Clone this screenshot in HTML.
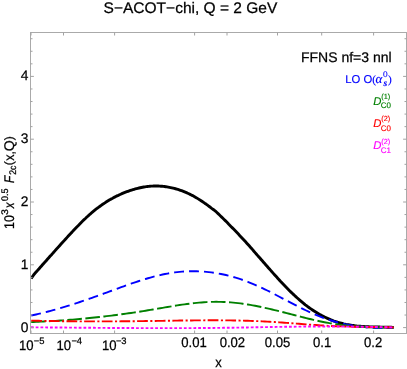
<!DOCTYPE html>
<html><head><meta charset="utf-8"><style>
html,body{margin:0;padding:0;background:#fff;}
body{width:407px;height:369px;overflow:hidden;}
svg{display:block;will-change:transform;transform:translateZ(0);}
</style></head><body>
<svg width="407" height="369" viewBox="0 0 407 369">
<path d="M31.2,278.5 L34.2,274.20 L35.4,272.82 L36.6,271.45 L37.9,270.07 L39.1,268.70 L40.3,267.32 L41.5,265.95 L42.7,264.57 L43.9,263.19 L45.2,261.82 L46.4,260.45 L47.6,259.07 L48.8,257.70 L50.0,256.33 L51.3,254.96 L52.5,253.59 L53.7,252.23 L54.9,250.86 L56.1,249.50 L57.3,248.14 L58.6,246.79 L59.8,245.43 L61.0,244.09 L62.2,242.74 L63.4,241.40 L64.7,240.06 L65.9,238.73 L67.1,237.40 L68.3,236.07 L69.5,234.75 L70.7,233.43 L72.0,232.13 L73.2,230.82 L74.4,229.53 L75.6,228.24 L76.8,226.97 L78.1,225.71 L79.3,224.46 L80.5,223.22 L81.7,222.01 L82.9,220.80 L84.1,219.62 L85.4,218.46 L86.6,217.31 L87.8,216.19 L89.0,215.09 L90.2,214.02 L91.5,212.96 L92.7,211.94 L93.9,210.93 L95.1,209.94 L96.3,208.98 L97.5,208.04 L98.8,207.13 L100.0,206.23 L101.2,205.36 L102.4,204.50 L103.6,203.67 L104.9,202.86 L106.1,202.08 L107.3,201.31 L108.5,200.56 L109.7,199.84 L110.9,199.13 L112.2,198.45 L113.4,197.78 L114.6,197.14 L115.8,196.51 L117.0,195.90 L118.3,195.32 L119.5,194.75 L120.7,194.20 L121.9,193.67 L123.1,193.15 L124.3,192.66 L125.6,192.18 L126.8,191.72 L128.0,191.27 L129.2,190.85 L130.4,190.44 L131.6,190.04 L132.9,189.66 L134.1,189.30 L135.3,188.96 L136.5,188.63 L137.7,188.31 L139.0,188.02 L140.2,187.74 L141.4,187.48 L142.6,187.24 L143.8,187.02 L145.0,186.82 L146.3,186.64 L147.5,186.49 L148.7,186.35 L149.9,186.24 L151.1,186.15 L152.4,186.08 L153.6,186.03 L154.8,186.00 L156.0,186.00 L157.2,186.01 L158.4,186.05 L159.7,186.10 L160.9,186.18 L162.1,186.28 L163.3,186.40 L164.5,186.54 L165.8,186.70 L167.0,186.89 L168.2,187.09 L169.4,187.32 L170.6,187.56 L171.8,187.83 L173.1,188.12 L174.3,188.42 L175.5,188.75 L176.7,189.10 L177.9,189.47 L179.2,189.86 L180.4,190.28 L181.6,190.71 L182.8,191.17 L184.0,191.64 L185.2,192.14 L186.5,192.66 L187.7,193.21 L188.9,193.77 L190.1,194.36 L191.3,194.97 L192.6,195.60 L193.8,196.26 L195.0,196.94 L196.2,197.64 L197.4,198.37 L198.6,199.11 L199.9,199.89 L201.1,200.68 L202.3,201.50 L203.5,202.33 L204.7,203.19 L206.0,204.06 L207.2,204.94 L208.4,205.84 L209.6,206.74 L210.8,207.65 L212.0,208.56 L213.3,209.48 L214.5,210.40 L215.7,211.32 L215.7,211.32 L216.9,212.47 L218.1,213.62 L219.3,214.78 L220.5,215.94 L221.7,217.11 L222.9,218.29 L224.1,219.47 L225.3,220.65 L226.5,221.84 L227.7,223.04 L228.8,224.24 L230.0,225.45 L231.2,226.66 L232.4,227.88 L233.6,229.11 L234.8,230.35 L236.0,231.60 L237.2,232.85 L238.4,234.11 L239.6,235.38 L240.8,236.65 L242.0,237.94 L243.2,239.23 L244.4,240.54 L245.6,241.85 L246.8,243.17 L248.0,244.50 L249.2,245.84 L250.4,247.18 L251.6,248.53 L252.8,249.88 L253.9,251.24 L255.1,252.60 L256.3,253.97 L257.5,255.34 L258.7,256.71 L259.9,258.08 L261.1,259.46 L262.3,260.83 L263.5,262.20 L264.7,263.57 L265.9,264.94 L267.1,266.31 L268.3,267.68 L269.5,269.04 L270.7,270.39 L271.9,271.74 L273.1,273.09 L274.3,274.43 L275.5,275.76 L276.7,277.08 L277.9,278.40 L279.1,279.70 L280.2,281.00 L281.4,282.28 L282.6,283.56 L283.8,284.82 L285.0,286.07 L286.2,287.30 L287.4,288.53 L288.6,289.73 L289.8,290.92 L291.0,292.10 L292.2,293.26 L293.4,294.40 L294.6,295.52 L295.8,296.63 L297.0,297.72 L298.2,298.79 L299.4,299.84 L300.6,300.87 L301.8,301.88 L303.0,302.87 L304.2,303.83 L305.3,304.78 L306.5,305.70 L307.7,306.60 L308.9,307.49 L310.1,308.34 L311.3,309.18 L312.5,310.00 L313.7,310.79 L314.9,311.56 L316.1,312.31 L317.3,313.04 L318.5,313.75 L319.7,314.43 L320.9,315.10 L322.1,315.74 L323.3,316.36 L324.5,316.97 L325.7,317.55 L326.9,318.11 L328.1,318.64 L329.3,319.16 L330.4,319.66 L331.6,320.14 L332.8,320.59 L334.0,321.03 L335.2,321.44 L336.4,321.83 L337.6,322.21 L338.8,322.56 L340.0,322.90 L341.2,323.22 L342.4,323.52 L343.6,323.81 L344.8,324.07 L346.0,324.33 L347.2,324.56 L348.4,324.78 L349.6,324.99 L350.8,325.19 L352.0,325.37 L353.2,325.53 L354.4,325.69 L355.6,325.83 L356.7,325.97 L357.9,326.09 L359.1,326.20 L360.3,326.30 L361.5,326.40 L362.7,326.48 L363.9,326.56 L365.1,326.63 L366.3,326.69 L367.5,326.74 L368.7,326.79 L369.9,326.84 L371.1,326.88 L372.3,326.91 L373.5,326.94 L374.7,326.97 L375.9,327.00 L377.1,327.02 L378.3,327.04 L379.5,327.06 L380.7,327.08 L381.8,327.10 L383.0,327.12 L384.2,327.14 L385.4,327.16 L386.6,327.19 L387.8,327.21 L389.0,327.24 L390.2,327.28 L391.4,327.31 L392.6,327.35 L393.8,327.40" fill="none" stroke="#000" stroke-width="2.9" stroke-linejoin="round"/>
<path d="M31.2,315.49 L33.6,314.98 L36.1,314.45 L38.5,313.90 L40.9,313.33 L43.4,312.74 L45.8,312.13 L48.2,311.50 L50.7,310.86 L53.1,310.20 L55.5,309.53 L58.0,308.84 L60.4,308.13 L62.8,307.41 L65.3,306.68 L67.7,305.93 L70.1,305.17 L72.6,304.40 L75.0,303.62 L77.4,302.82 L79.9,302.01 L82.3,301.20 L84.7,300.37 L87.2,299.53 L89.6,298.68 L92.0,297.83 L94.5,296.97 L96.9,296.10 L99.3,295.22 L101.8,294.34 L104.2,293.45 L106.6,292.55 L109.1,291.65 L111.5,290.75 L113.9,289.86 L116.4,288.96 L118.8,288.07 L121.2,287.18 L123.7,286.30 L126.1,285.43 L128.5,284.56 L131.0,283.72 L133.4,282.88 L135.8,282.06 L138.3,281.26 L140.7,280.47 L143.1,279.71 L145.6,278.97 L148.0,278.25 L150.4,277.56 L152.9,276.89 L155.3,276.26 L157.7,275.65 L160.2,275.08 L162.6,274.54 L165.0,274.04 L167.5,273.57 L169.9,273.14 L172.3,272.76 L174.8,272.41 L177.2,272.11 L179.6,271.86 L182.1,271.64 L184.5,271.47 L186.9,271.34 L189.4,271.26 L191.8,271.21 L194.2,271.21 L196.7,271.25 L199.1,271.34 L201.5,271.47 L204.0,271.64 L206.4,271.85 L208.8,272.10 L211.3,272.40 L213.7,272.74 L216.2,273.11 L218.6,273.54 L221.0,274.00 L223.5,274.50 L225.9,275.05 L228.3,275.64 L230.8,276.27 L233.2,276.94 L235.6,277.65 L238.1,278.40 L240.5,279.19 L242.9,280.03 L245.4,280.90 L247.8,281.82 L250.2,282.78 L252.7,283.77 L255.1,284.81 L257.5,285.89 L260.0,287.00 L262.4,288.14 L264.8,289.31 L267.3,290.50 L269.7,291.72 L272.1,292.96 L274.6,294.21 L277.0,295.48 L279.4,296.75 L281.9,298.03 L284.3,299.32 L286.7,300.60 L289.2,301.89 L291.6,303.16 L294.0,304.43 L296.5,305.69 L298.9,306.93 L301.3,308.15 L303.8,309.35 L306.2,310.52 L308.6,311.67 L311.1,312.79 L313.5,313.87 L315.9,314.91 L318.4,315.92 L320.8,316.88 L323.2,317.80 L325.7,318.67 L328.1,319.50 L330.5,320.28 L333.0,321.02 L335.4,321.73 L337.8,322.39 L340.3,323.00 L342.7,323.58 L345.1,324.12 L347.6,324.62 L350.0,325.08 L352.4,325.50 L354.9,325.89 L357.3,326.24 L359.7,326.55 L362.2,326.82 L364.6,327.06 L367.0,327.27 L369.5,327.44 L371.9,327.57 L374.3,327.68 L376.8,327.75 L379.2,327.79 L381.6,327.80 L384.1,327.77 L386.5,327.72 L388.9,327.63 L391.4,327.52 L393.8,327.38" fill="none" stroke="#0000ff" stroke-width="1.9" stroke-dasharray="9.9 5.05"/>
<path d="M31.2,322.09 L33.6,322.00 L36.1,321.89 L38.5,321.78 L40.9,321.67 L43.4,321.54 L45.8,321.42 L48.2,321.28 L50.7,321.14 L53.1,320.99 L55.5,320.84 L58.0,320.68 L60.4,320.52 L62.8,320.34 L65.3,320.16 L67.7,319.98 L70.1,319.79 L72.6,319.59 L75.0,319.39 L77.4,319.18 L79.9,318.96 L82.3,318.74 L84.7,318.51 L87.2,318.27 L89.6,318.03 L92.0,317.78 L94.5,317.53 L96.9,317.27 L99.3,317.00 L101.8,316.73 L104.2,316.45 L106.6,316.16 L109.1,315.87 L111.5,315.57 L113.9,315.26 L116.4,314.95 L118.8,314.63 L121.2,314.31 L123.7,313.97 L126.1,313.63 L128.5,313.29 L131.0,312.94 L133.4,312.58 L135.8,312.22 L138.3,311.84 L140.7,311.47 L143.1,311.08 L145.6,310.69 L148.0,310.29 L150.4,309.89 L152.9,309.48 L155.3,309.07 L157.7,308.65 L160.2,308.23 L162.6,307.82 L165.0,307.40 L167.5,306.99 L169.9,306.58 L172.3,306.18 L174.8,305.79 L177.2,305.41 L179.6,305.03 L182.1,304.67 L184.5,304.33 L186.9,304.00 L189.4,303.69 L191.8,303.39 L194.2,303.12 L196.7,302.87 L199.1,302.64 L201.5,302.44 L204.0,302.26 L206.4,302.11 L208.8,301.99 L211.3,301.90 L213.7,301.84 L216.2,301.82 L218.6,301.83 L221.0,301.88 L223.5,301.96 L225.9,302.08 L228.3,302.22 L230.8,302.40 L233.2,302.62 L235.6,302.86 L238.1,303.13 L240.5,303.43 L242.9,303.76 L245.4,304.11 L247.8,304.49 L250.2,304.90 L252.7,305.33 L255.1,305.78 L257.5,306.26 L260.0,306.76 L262.4,307.28 L264.8,307.81 L267.3,308.36 L269.7,308.92 L272.1,309.50 L274.6,310.09 L277.0,310.69 L279.4,311.30 L281.9,311.92 L284.3,312.54 L286.7,313.16 L289.2,313.79 L291.6,314.42 L294.0,315.04 L296.5,315.67 L298.9,316.29 L301.3,316.91 L303.8,317.52 L306.2,318.12 L308.6,318.71 L311.1,319.29 L313.5,319.86 L315.9,320.41 L318.4,320.95 L320.8,321.47 L323.2,321.97 L325.7,322.45 L328.1,322.90 L330.5,323.34 L333.0,323.75 L335.4,324.13 L337.8,324.48 L340.3,324.81 L342.7,325.12 L345.1,325.40 L347.6,325.65 L350.0,325.89 L352.4,326.10 L354.9,326.29 L357.3,326.47 L359.7,326.62 L362.2,326.76 L364.6,326.88 L367.0,326.99 L369.5,327.08 L371.9,327.15 L374.3,327.22 L376.8,327.27 L379.2,327.31 L381.6,327.35 L384.1,327.37 L386.5,327.38 L388.9,327.39 L391.4,327.39 L393.8,327.39" fill="none" stroke="#008000" stroke-width="1.9" stroke-dasharray="14.6 3.5"/>
<path d="M31.2,320.60 L33.6,320.66 L36.1,320.72 L38.5,320.77 L40.9,320.83 L43.4,320.88 L45.8,320.93 L48.2,320.97 L50.7,321.02 L53.1,321.06 L55.5,321.09 L58.0,321.13 L60.4,321.16 L62.8,321.20 L65.3,321.22 L67.7,321.25 L70.1,321.28 L72.6,321.30 L75.0,321.32 L77.4,321.33 L79.9,321.35 L82.3,321.36 L84.7,321.37 L87.2,321.38 L89.6,321.39 L92.0,321.40 L94.5,321.40 L96.9,321.40 L99.3,321.40 L101.8,321.40 L104.2,321.39 L106.6,321.39 L109.1,321.38 L111.5,321.37 L113.9,321.36 L116.4,321.35 L118.8,321.33 L121.2,321.32 L123.7,321.30 L126.1,321.28 L128.5,321.26 L131.0,321.24 L133.4,321.21 L135.8,321.19 L138.3,321.16 L140.7,321.13 L143.1,321.10 L145.6,321.07 L148.0,321.04 L150.4,321.01 L152.9,320.97 L155.3,320.94 L157.7,320.90 L160.2,320.86 L162.6,320.83 L165.0,320.79 L167.5,320.75 L169.9,320.72 L172.3,320.68 L174.8,320.64 L177.2,320.61 L179.6,320.57 L182.1,320.54 L184.5,320.51 L186.9,320.48 L189.4,320.45 L191.8,320.43 L194.2,320.40 L196.7,320.38 L199.1,320.36 L201.5,320.34 L204.0,320.33 L206.4,320.32 L208.8,320.31 L211.3,320.31 L213.7,320.31 L216.2,320.31 L218.6,320.32 L221.0,320.33 L223.5,320.34 L225.9,320.37 L228.3,320.39 L230.8,320.42 L233.2,320.46 L235.6,320.50 L238.1,320.54 L240.5,320.60 L242.9,320.65 L245.4,320.72 L247.8,320.79 L250.2,320.87 L252.7,320.95 L255.1,321.04 L257.5,321.14 L260.0,321.24 L262.4,321.35 L264.8,321.47 L267.3,321.60 L269.7,321.74 L272.1,321.88 L274.6,322.03 L277.0,322.19 L279.4,322.35 L281.9,322.52 L284.3,322.70 L286.7,322.88 L289.2,323.06 L291.6,323.24 L294.0,323.43 L296.5,323.62 L298.9,323.81 L301.3,323.99 L303.8,324.18 L306.2,324.36 L308.6,324.55 L311.1,324.72 L313.5,324.90 L315.9,325.07 L318.4,325.23 L320.8,325.39 L323.2,325.54 L325.7,325.69 L328.1,325.83 L330.5,325.95 L333.0,326.07 L335.4,326.18 L337.8,326.27 L340.3,326.36 L342.7,326.44 L345.1,326.51 L347.6,326.57 L350.0,326.63 L352.4,326.68 L354.9,326.72 L357.3,326.76 L359.7,326.80 L362.2,326.84 L364.6,326.87 L367.0,326.90 L369.5,326.93 L371.9,326.96 L374.3,327.00 L376.8,327.03 L379.2,327.07 L381.6,327.11 L384.1,327.16 L386.5,327.21 L388.9,327.27 L391.4,327.33 L393.8,327.40" fill="none" stroke="#ff0000" stroke-width="1.9" stroke-dasharray="10.75 2.45 2.1 2.35"/>
<path d="M30.9,327.30 L33.3,327.32 L35.8,327.34 L38.2,327.35 L40.6,327.37 L43.1,327.39 L45.5,327.41 L47.9,327.43 L50.4,327.45 L52.8,327.47 L55.3,327.49 L57.7,327.51 L60.1,327.53 L62.6,327.55 L65.0,327.57 L67.4,327.59 L69.9,327.61 L72.3,327.64 L74.7,327.66 L77.2,327.68 L79.6,327.70 L82.0,327.72 L84.5,327.74 L86.9,327.76 L89.4,327.78 L91.8,327.80 L94.2,327.82 L96.7,327.84 L99.1,327.85 L101.5,327.87 L104.0,327.89 L106.4,327.91 L108.8,327.93 L111.3,327.94 L113.7,327.96 L116.1,327.97 L118.6,327.99 L121.0,328.01 L123.5,328.02 L125.9,328.03 L128.3,328.05 L130.8,328.06 L133.2,328.07 L135.6,328.08 L138.1,328.09 L140.5,328.10 L142.9,328.11 L145.4,328.12 L147.8,328.13 L150.2,328.13 L152.7,328.14 L155.1,328.14 L157.5,328.15 L160.0,328.15 L162.4,328.15 L164.9,328.15 L167.3,328.15 L169.7,328.15 L172.2,328.15 L174.6,328.15 L177.0,328.14 L179.5,328.14 L181.9,328.13 L184.3,328.12 L186.8,328.11 L189.2,328.10 L191.6,328.09 L194.1,328.08 L196.5,328.07 L199.0,328.05 L201.4,328.03 L203.8,328.02 L206.3,328.00 L208.7,327.97 L211.1,327.95 L213.6,327.93 L216.0,327.90 L218.4,327.88 L220.9,327.85 L223.3,327.82 L225.7,327.78 L228.2,327.75 L230.6,327.72 L233.1,327.68 L235.5,327.64 L237.9,327.60 L240.4,327.56 L242.8,327.52 L245.2,327.48 L247.7,327.43 L250.1,327.39 L252.5,327.34 L255.0,327.30 L257.4,327.26 L259.8,327.21 L262.3,327.17 L264.7,327.12 L267.2,327.08 L269.6,327.04 L272.0,326.99 L274.5,326.95 L276.9,326.91 L279.3,326.87 L281.8,326.84 L284.2,326.80 L286.6,326.77 L289.1,326.74 L291.5,326.71 L293.9,326.68 L296.4,326.65 L298.8,326.63 L301.2,326.61 L303.7,326.59 L306.1,326.57 L308.6,326.55 L311.0,326.54 L313.4,326.53 L315.9,326.52 L318.3,326.51 L320.7,326.51 L323.2,326.50 L325.6,326.50 L328.0,326.51 L330.5,326.51 L332.9,326.52 L335.3,326.52 L337.8,326.53 L340.2,326.55 L342.7,326.56 L345.1,326.58 L347.5,326.60 L350.0,326.62 L352.4,326.64 L354.8,326.67 L357.3,326.70 L359.7,326.73 L362.1,326.76 L364.6,326.80 L367.0,326.84 L369.4,326.88 L371.9,326.92 L374.3,326.96 L376.8,327.01 L379.2,327.06 L381.6,327.11 L384.1,327.17 L386.5,327.22 L388.9,327.28 L391.4,327.34 L393.8,327.41" fill="none" stroke="#ff00ff" stroke-width="1.9" stroke-dasharray="2.78 2.0"/>
<g stroke="#aaaaaa" stroke-width="1" fill="none">
<rect x="30.5" y="32.5" width="376.0" height="301.0"/>
<path d="M30.5,327.60h3.4M406.5,327.60h-3.4M30.5,315.04h2.0M406.5,315.04h-2.0M30.5,302.48h2.0M406.5,302.48h-2.0M30.5,289.92h2.0M406.5,289.92h-2.0M30.5,277.36h2.0M406.5,277.36h-2.0M30.5,264.80h3.4M406.5,264.80h-3.4M30.5,252.24h2.0M406.5,252.24h-2.0M30.5,239.68h2.0M406.5,239.68h-2.0M30.5,227.12h2.0M406.5,227.12h-2.0M30.5,214.56h2.0M406.5,214.56h-2.0M30.5,202.00h3.4M406.5,202.00h-3.4M30.5,189.44h2.0M406.5,189.44h-2.0M30.5,176.88h2.0M406.5,176.88h-2.0M30.5,164.32h2.0M406.5,164.32h-2.0M30.5,151.76h2.0M406.5,151.76h-2.0M30.5,139.20h3.4M406.5,139.20h-3.4M30.5,126.64h2.0M406.5,126.64h-2.0M30.5,114.08h2.0M406.5,114.08h-2.0M30.5,101.52h2.0M406.5,101.52h-2.0M30.5,88.96h2.0M406.5,88.96h-2.0M30.5,76.40h3.4M406.5,76.40h-3.4M30.5,63.84h2.0M406.5,63.84h-2.0M30.5,51.28h2.0M406.5,51.28h-2.0M30.5,38.72h2.0M406.5,38.72h-2.0M31.0,333.5v-3.0M31.0,32.5v3.0M63.5,333.5v-3.0M63.5,32.5v3.0M114.6,333.5v-3.0M114.6,32.5v3.0M194.6,333.5v-3.0M194.6,32.5v3.0M227,333.5v-3.0M227,32.5v3.0M277.5,333.5v-3.0M277.5,32.5v3.0M321.7,333.5v-3.0M321.7,32.5v3.0M373.6,333.5v-3.0M373.6,32.5v3.0" stroke="#a2a2a2" stroke-width="1.0"/>
</g>
<g font-family="'Liberation Sans', sans-serif" style="text-rendering:geometricPrecision" stroke="#000" stroke-width="0.25">
<text x="103.60" y="12.9" font-size="15.3" textLength="173.77" lengthAdjust="spacingAndGlyphs">S&#8722;ACOT&#8722;chi, Q = 2 GeV</text>
<text x="20.73" y="331.55" font-size="13.8" textLength="7.67" lengthAdjust="spacingAndGlyphs">0</text>
<text x="20.73" y="268.75" font-size="13.8" textLength="7.67" lengthAdjust="spacingAndGlyphs">1</text>
<text x="20.73" y="205.95" font-size="13.8" textLength="7.67" lengthAdjust="spacingAndGlyphs">2</text>
<text x="20.73" y="143.15" font-size="13.8" textLength="7.67" lengthAdjust="spacingAndGlyphs">3</text>
<text x="20.73" y="80.35" font-size="13.8" textLength="7.67" lengthAdjust="spacingAndGlyphs">4</text>
<text x="18.90" y="349.95" font-size="13.8" textLength="14.58" lengthAdjust="spacingAndGlyphs">10</text><text x="33.80" y="343.8" font-size="9.4" textLength="10.72" lengthAdjust="spacingAndGlyphs">&#8722;5</text>
<text x="56.40" y="349.95" font-size="13.8" textLength="14.58" lengthAdjust="spacingAndGlyphs">10</text><text x="71.40" y="343.8" font-size="9.4" textLength="10.72" lengthAdjust="spacingAndGlyphs">&#8722;4</text>
<text x="101.90" y="349.95" font-size="13.8" textLength="14.58" lengthAdjust="spacingAndGlyphs">10</text><text x="115.90" y="343.8" font-size="9.4" textLength="10.72" lengthAdjust="spacingAndGlyphs">&#8722;3</text>
<text x="181.34" y="346.95" font-size="13.8" textLength="25.52" lengthAdjust="spacingAndGlyphs">0.01</text>
<text x="219.64" y="346.95" font-size="13.8" textLength="25.52" lengthAdjust="spacingAndGlyphs">0.02</text>
<text x="264.84" y="346.95" font-size="13.8" textLength="25.52" lengthAdjust="spacingAndGlyphs">0.05</text>
<text x="313.09" y="346.95" font-size="13.8" textLength="18.22" lengthAdjust="spacingAndGlyphs">0.1</text>
<text x="364.09" y="346.95" font-size="13.8" textLength="18.22" lengthAdjust="spacingAndGlyphs">0.2</text>
<text x="215.32" y="366.6" font-size="13.8" textLength="6.55" lengthAdjust="spacingAndGlyphs">x</text>
<text x="391.6" y="61.6" font-size="14" text-anchor="end" >FFNS nf=3 nnl</text>
<text stroke="#0000ff" stroke-width="0.15" x="345.2" y="82.6" font-size="11.3" fill="#0000ff" >LO O</text>
<text stroke="#0000ff" stroke-width="0.15" font-family="Liberation Serif, serif" font-size="11.2" x="372.3" y="82.7" fill="#0000ff">(</text>
<text stroke="#0000ff" stroke-width="0.15" font-family="Liberation Serif, serif" font-style="italic" font-size="13" x="375.6" y="82.7" fill="#0000ff">&#945;</text>
<text stroke="#0000ff" stroke-width="0.15" font-size="8.3" x="383.1" y="77.3" fill="#0000ff">0</text>
<text stroke="#0000ff" stroke-width="0.15" font-family="Liberation Serif, serif" font-style="italic" font-weight="bold" font-size="9.5" x="383.4" y="86.2" fill="#0000ff">s</text>
<text stroke="#0000ff" stroke-width="0.15" font-family="Liberation Serif, serif" font-size="11.2" x="387.9" y="82.7" fill="#0000ff">)</text>
<text stroke="#008000" stroke-width="0.15" font-style="italic" font-size="11.3" x="373.3" y="104.6" fill="#008000">D</text><text stroke="#008000" stroke-width="0.15" font-size="7.4" x="381.3" y="99.1" fill="#008000">(1)</text><text stroke="#008000" stroke-width="0.15" font-size="8" x="380.7" y="108.4" fill="#008000">C0</text>
<text stroke="#ff0000" stroke-width="0.15" font-style="italic" font-size="11.3" x="373.3" y="126.8" fill="#ff0000">D</text><text stroke="#ff0000" stroke-width="0.15" font-size="7.4" x="381.3" y="121.3" fill="#ff0000">(2)</text><text stroke="#ff0000" stroke-width="0.15" font-size="8" x="380.7" y="130.6" fill="#ff0000">C0</text>
<text stroke="#ff00ff" stroke-width="0.15" font-style="italic" font-size="11.3" x="373.3" y="149.0" fill="#ff00ff">D</text><text stroke="#ff00ff" stroke-width="0.15" font-size="7.4" x="381.3" y="143.5" fill="#ff00ff">(2)</text><text stroke="#ff00ff" stroke-width="0.15" font-size="8" x="380.7" y="152.8" fill="#ff00ff">C1</text>
<g transform="rotate(-90)">
<text x="-228.95" y="14.1" font-size="14" textLength="13.83" lengthAdjust="spacingAndGlyphs">10</text>
<text x="-215.00" y="8.3" font-size="9.6" textLength="5.87" lengthAdjust="spacingAndGlyphs">3</text>
<text x="-208.34" y="14.1" font-size="14" textLength="5.71" lengthAdjust="spacingAndGlyphs" font-family="'Liberation Sans', sans-serif" font-style="italic">x</text>
<text x="-201.05" y="8.3" font-size="9.6" textLength="12.53" lengthAdjust="spacingAndGlyphs">0.5</text>
<text x="-182.97" y="14.1" font-size="14" textLength="7.31" lengthAdjust="spacingAndGlyphs" font-family="'Liberation Sans', sans-serif" font-style="italic">F</text>
<text x="-174.84" y="16.1" font-size="9.6" textLength="9.17" lengthAdjust="spacingAndGlyphs">2c</text>
<text x="-165.25" y="13.4" font-size="12.1" textLength="4.02" lengthAdjust="spacingAndGlyphs">(</text>
<text x="-160.84" y="14.1" font-size="14" textLength="9.77" lengthAdjust="spacingAndGlyphs">x,</text>
<text x="-151.27" y="14.1" font-size="14" textLength="10.94" lengthAdjust="spacingAndGlyphs">Q</text>
<text x="-140.27" y="13.4" font-size="12.1" textLength="4.02" lengthAdjust="spacingAndGlyphs">)</text>
</g>
</g>
</svg>
</body></html>
